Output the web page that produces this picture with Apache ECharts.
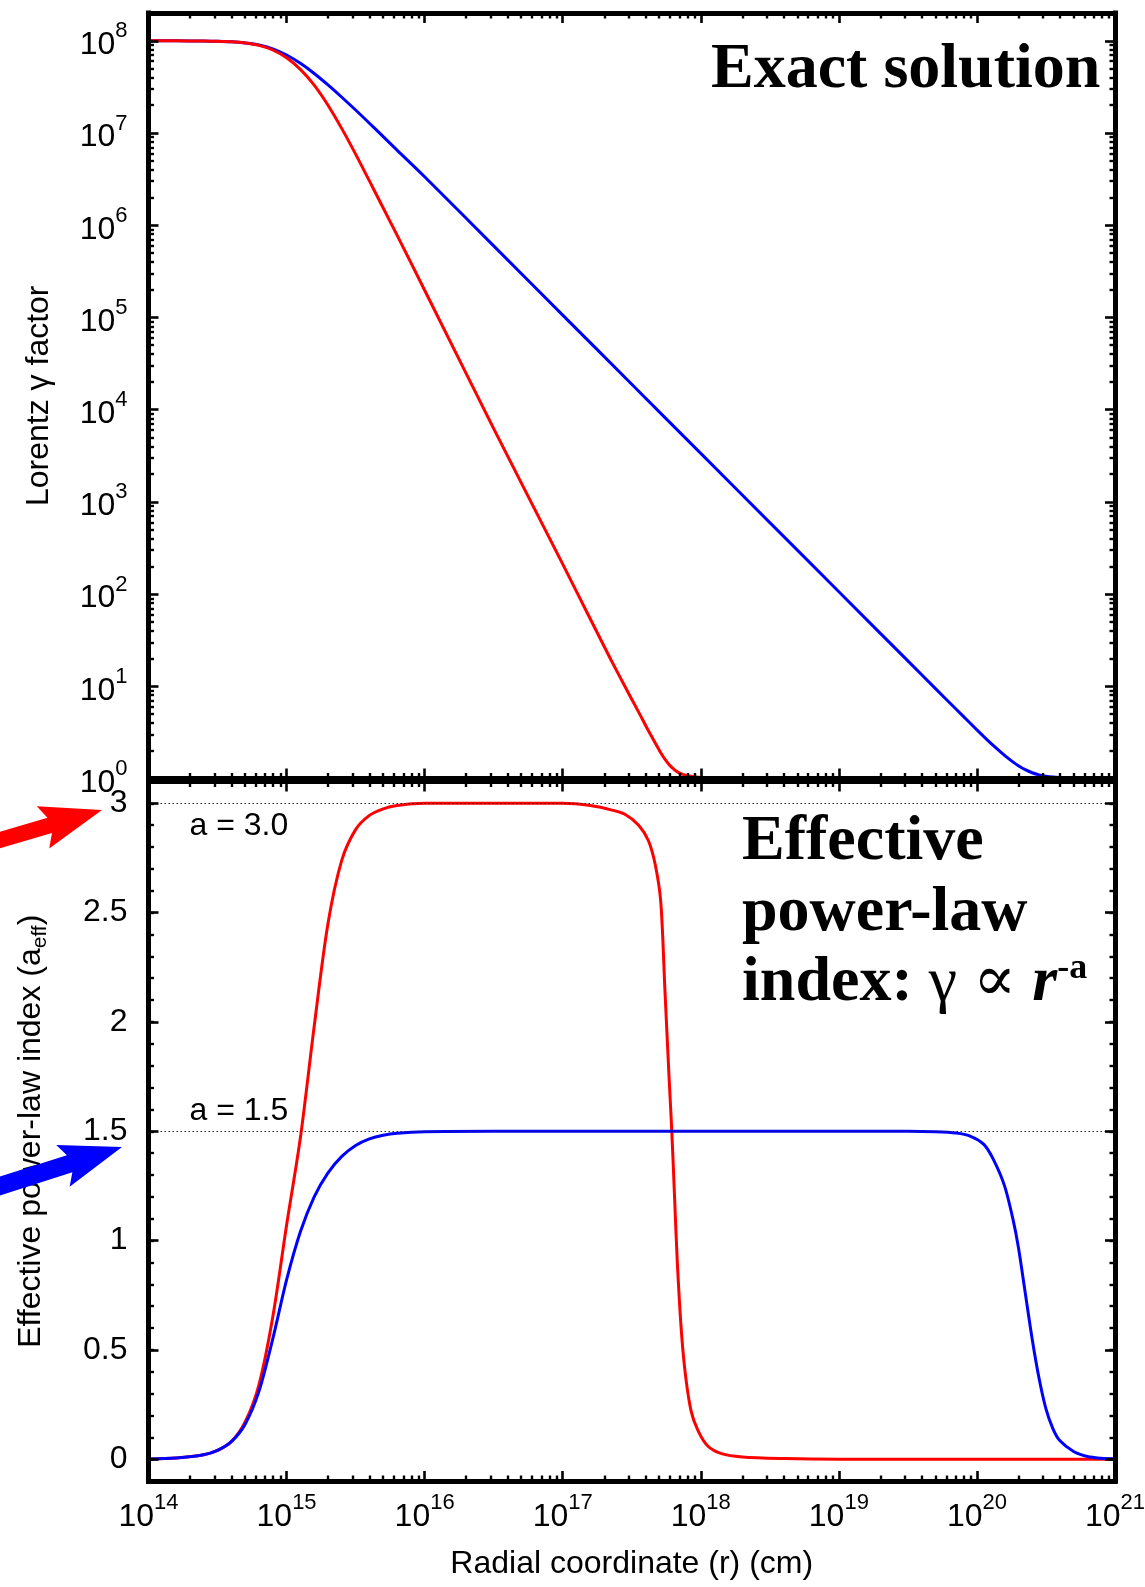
<!DOCTYPE html>
<html>
<head>
<meta charset="utf-8">
<title>Lorentz factor and effective power-law index</title>
<script src="https://cdn.jsdelivr.net/npm/echarts@6.0.0/dist/echarts.min.js"></script>
<style>
html,body{margin:0;padding:0;background:#ffffff;}
#chart{width:1145px;height:1587px;}
</style>
</head>
<body>
<div id="chart"></div>
<script>
// ---------------- data ----------------
// radial coordinate samples (cm) used for the red curves
const rRed = [1e14, 1.585e14, 2.512e14, 3.162e14, 3.981e14, 5.012e14, 6.31e14, 7.943e14,
  1e15, 1.259e15, 1.585e15, 1.995e15, 2.512e15, 3.162e15, 3.981e15, 5.012e15, 6.31e15,
  1e16, 3.162e16, 1e17, 1.585e17, 2.239e17, 2.818e17, 3.548e17, 4.169e17, 4.677e17,
  5.129e17, 5.495e17, 5.888e17, 6.166e17, 6.457e17, 6.761e17, 7.244e17, 7.762e17,
  8.511e17, 9.55e17, 1.122e18, 1.413e18, 1.995e18, 3.981e18, 1e19, 1e20, 1e21];
// Lorentz gamma factor, red (a = 3)
const gammaRed = [1e8, 9.99e7, 9.93e7, 9.86e7, 9.73e7, 9.46e7, 8.91e7, 7.94e7,
  6.53e7, 4.90e7, 3.30e7, 2.00e7, 1.115e7, 5.90e6, 3.02e6, 1.535e6, 7.80e5,
  1.97e5, 6230, 211, 53.7, 19.3, 10.0, 5.25, 3.31, 2.43,
  1.905, 1.62, 1.419, 1.318, 1.239, 1.18, 1.122, 1.086,
  1.057, 1.035, 1.0205, 1.0104, 1.0044, 1.0014, 1, 1, 1];
// effective power-law index, red
const aRed = [0, 0.005, 0.02, 0.04, 0.08, 0.17, 0.34, 0.65,
  1.07, 1.47, 1.98, 2.45, 2.74, 2.88, 2.945, 2.975, 2.99,
  3.0, 3.0, 3.0, 2.99, 2.97, 2.95, 2.9, 2.83, 2.72,
  2.55, 2.15, 1.75, 1.5, 1.2, 0.9, 0.58, 0.38,
  0.22, 0.13, 0.06, 0.025, 0.01, 0.003, 0, 0, 0];

// radial coordinate samples (cm) used for the blue curves
const rBlue = [1e14, 1.585e14, 2.512e14, 3.162e14, 3.981e14, 5.012e14, 6.31e14, 7.943e14,
  1e15, 1.259e15, 1.585e15, 1.995e15, 2.512e15, 3.162e15, 3.981e15, 5.012e15, 6.31e15,
  1e16, 3.162e16, 1e17, 3.162e17, 1e18, 3.162e18, 1e19, 3.162e19, 5.012e19,
  7.079e19, 8.913e19, 1.122e20, 1.318e20, 1.585e20, 1.82e20, 1.995e20, 2.239e20,
  2.512e20, 2.818e20, 3.162e20, 3.548e20, 3.981e20, 5.012e20, 6.31e20, 7.943e20, 1e21];
// Lorentz gamma factor, blue (a = 1.5)
const gammaBlue = [1e8, 9.99e7, 9.93e7, 9.86e7, 9.73e7, 9.46e7, 9.02e7, 8.18e7,
  7.01e7, 5.69e7, 4.42e7, 3.32e7, 2.44e7, 1.774e7, 1.276e7, 9.12e6, 6.52e6,
  3.35e6, 5.96e5, 1.06e5, 1.884e4, 3350, 596, 106, 18.84, 9.44,
  5.63, 3.995, 2.849, 2.268, 1.78, 1.514, 1.376, 1.246,
  1.155, 1.095, 1.058, 1.036, 1.023, 1.0085, 1.003, 1.0012, 1];
// effective power-law index, blue
const aBlue = [0, 0.005, 0.02, 0.04, 0.08, 0.16, 0.31, 0.55,
  0.82, 1.04, 1.2, 1.31, 1.385, 1.435, 1.465, 1.482, 1.491,
  1.498, 1.5, 1.5, 1.5, 1.5, 1.5, 1.5, 1.5, 1.498,
  1.492, 1.478, 1.44, 1.37, 1.25, 1.1, 0.97, 0.76,
  0.55, 0.37, 0.23, 0.14, 0.085, 0.035, 0.012, 0.004, 0.001];

// axis ranges and ticks
const rRange = [1e14, 1e21];
const gammaRange = [1, 2e8];
const aRange = [-0.1, 3.1];
const aTickValues = [0, 0.5, 1, 1.5, 2, 2.5, 3];
const refLevels = [3.0, 1.5];

// texts
const xTitle = 'Radial coordinate (r) (cm)';
const yTitleTop = 'Lorentz \u03b3 factor';
const yTitleBottom = '{n|Effective power-law index (a}{sub|eff}{n|)}';
const panelTitleTop = 'Exact solution';

// ---------------- styling ----------------
const FONT = '"Liberation Sans", Arial, Helvetica, sans-serif';
const SERIF = '"Liberation Serif", "Times New Roman", "DejaVu Serif", serif';
const RED = '#ff0000';
const BLUE = '#0000ff';
const FRAME_W = 5;
const TICK_FS = 32;
const SUP_FS = 22;

const axisLineOn = {show: true, onZero: false, lineStyle: {color: '#000', width: FRAME_W, cap: 'square'}};
const axisLineOff = {show: false, onZero: false};
const majorTick = {show: true, inside: true, length: 10, lineStyle: {color: '#000', width: 2.6}};
const minorTick = {show: true, inside: true, length: 5.5, lineStyle: {color: '#000', width: 2.4}};

// positions (in exponent space) of log minor ticks
const xExp = [Math.log10(rRange[0]), Math.log10(rRange[1])];
const yExp = [Math.log10(gammaRange[0]), Math.log10(gammaRange[1])];
function logMinor(e0, e1) {
  const out = [];
  for (let n = Math.floor(e0); n < e1; n++) {
    for (let k = 2; k <= 9; k++) {
      const v = n + Math.log10(k);
      if (v > e0 && v <= e1 + 1e-9) out.push(v);
    }
  }
  return out;
}
const minorX = logMinor(xExp[0], xExp[1]);
const minorY = logMinor(yExp[0], yExp[1]);

function powLabel(v) {
  const e = Math.log10(v);
  const n = Math.round(e);
  if (Math.abs(e - n) > 1e-6) return '';
  return '{b|10}{s|' + n + '}';
}
const powRich = {
  b: {fontSize: TICK_FS, fontFamily: FONT, color: '#000', verticalAlign: 'bottom', padding: [9, 0, 0, 0]},
  s: {fontSize: SUP_FS, fontFamily: FONT, color: '#000', verticalAlign: 'top'}
};

function logXAxis(grid, pos, extra) {
  return Object.assign({
    type: 'log', logBase: 10, gridIndex: grid, position: pos,
    min: rRange[0], max: rRange[1], z: 5,
    axisLine: axisLineOn, axisTick: majorTick,
    axisLabel: {show: false}, splitLine: {show: false}
  }, extra || {});
}
function minorXAxis(grid, pos) {
  return {
    type: 'value', gridIndex: grid, position: pos, min: xExp[0], max: xExp[1], z: 5,
    axisLine: axisLineOff, axisTick: Object.assign({}, minorTick, {customValues: minorX}),
    axisLabel: {show: false}, splitLine: {show: false}
  };
}

const xAxis = [
  logXAxis(0, 'bottom'),
  logXAxis(0, 'top'),
  logXAxis(1, 'bottom', {
    axisLabel: {show: true, formatter: powLabel, rich: powRich, margin: 11},
    name: xTitle, nameLocation: 'middle', nameGap: 67,
    nameTextStyle: {fontSize: 32, fontFamily: FONT, color: '#000', lineHeight: 32}
  }),
  logXAxis(1, 'top'),
  minorXAxis(0, 'bottom'),
  minorXAxis(0, 'top'),
  minorXAxis(1, 'bottom'),
  minorXAxis(1, 'top')
];

const yAxis = [
  {
    type: 'log', logBase: 10, gridIndex: 0, position: 'left', min: gammaRange[0], max: gammaRange[1], z: 5,
    axisLine: axisLineOn, axisTick: majorTick, splitLine: {show: false},
    axisLabel: {formatter: powLabel, rich: powRich, margin: 21},
    name: yTitleTop, nameLocation: 'middle', nameRotate: 90, nameGap: 93,
    nameTextStyle: {fontSize: 32, fontFamily: FONT, color: '#000', lineHeight: 32}
  },
  {
    type: 'log', logBase: 10, gridIndex: 0, position: 'right', min: gammaRange[0], max: gammaRange[1], z: 5,
    axisLine: axisLineOn, axisTick: majorTick, splitLine: {show: false}, axisLabel: {show: false}
  },
  {
    type: 'value', gridIndex: 0, position: 'left', min: yExp[0], max: yExp[1], z: 5,
    axisLine: axisLineOff, axisTick: Object.assign({}, minorTick, {customValues: minorY}),
    axisLabel: {show: false}, splitLine: {show: false}
  },
  {
    type: 'value', gridIndex: 0, position: 'right', min: yExp[0], max: yExp[1], z: 5,
    axisLine: axisLineOff, axisTick: Object.assign({}, minorTick, {customValues: minorY}),
    axisLabel: {show: false}, splitLine: {show: false}
  },
  {
    type: 'value', gridIndex: 1, position: 'left', min: aRange[0], max: aRange[1], z: 5,
    axisLine: axisLineOn, axisTick: Object.assign({}, majorTick, {customValues: aTickValues}),
    axisLabel: {customValues: aTickValues, fontSize: TICK_FS, fontFamily: FONT, color: '#000', margin: 21},
    splitLine: {show: false},
    name: yTitleBottom, nameLocation: 'middle', nameRotate: 90, nameGap: 98,
    nameTextStyle: {
      fontSize: 32, fontFamily: FONT, color: '#000',
      rich: {
        n: {fontSize: 32, fontFamily: FONT, color: '#000', lineHeight: 32, verticalAlign: 'top'},
        sub: {fontSize: 21, fontFamily: FONT, color: '#000', verticalAlign: 'bottom', padding: [14, 0, 0, 0]}
      }
    }
  },
  {
    type: 'value', gridIndex: 1, position: 'right', min: aRange[0], max: aRange[1], z: 5,
    axisLine: axisLineOn, axisTick: Object.assign({}, majorTick, {customValues: aTickValues}),
    axisLabel: {show: false}, splitLine: {show: false}
  },
  {
    type: 'value', gridIndex: 1, position: 'left', min: aRange[0], max: aRange[1], interval: 0.1, z: 5,
    axisLine: axisLineOff, axisTick: minorTick, axisLabel: {show: false}, splitLine: {show: false}
  },
  {
    type: 'value', gridIndex: 1, position: 'right', min: aRange[0], max: aRange[1], interval: 0.1, z: 5,
    axisLine: axisLineOff, axisTick: minorTick, axisLabel: {show: false}, splitLine: {show: false}
  }
];

function zip(xs, ys) { return xs.map((x, i) => [x, ys[i]]); }
function lineSeries(xi, yi, xs, ys, color, extra) {
  return Object.assign({
    type: 'line', xAxisIndex: xi, yAxisIndex: yi, data: zip(xs, ys),
    showSymbol: false, symbol: 'none', smooth: 0.3, clip: true,
    lineStyle: {color: color, width: 3}, itemStyle: {color: color},
    emphasis: {disabled: true}, z: 2
  }, extra || {});
}

// arrows outside the plot (annotation graphics)
function arrowPoints(tip, tail, headLen, headHalf, shaftHalf) {
  const dx = tip[0] - tail[0], dy = tip[1] - tail[1];
  const L = Math.hypot(dx, dy);
  const ux = dx / L, uy = dy / L, nx = -uy, ny = ux;
  const bx = tip[0] - ux * headLen, by = tip[1] - uy * headLen;
  const jx = bx + ux * 7, jy = by + uy * 7;
  const tx = tail[0] - ux * 30, ty = tail[1] - uy * 30;
  return [
    [tx + nx * shaftHalf, ty + ny * shaftHalf],
    [jx + nx * shaftHalf, jy + ny * shaftHalf],
    [bx + nx * headHalf, by + ny * headHalf],
    [tip[0], tip[1]],
    [bx - nx * headHalf, by - ny * headHalf],
    [jx - nx * shaftHalf, jy - ny * shaftHalf],
    [tx - nx * shaftHalf, ty - ny * shaftHalf]
  ];
}

const chart = echarts.init(document.getElementById('chart'), null, {renderer: 'canvas'});
chart.setOption({
  animation: false,
  backgroundColor: '#ffffff',
  textStyle: {fontFamily: FONT},
  grid: [
    {left: 148.5, right: 30, top: 13, bottom: 1587 - 778.5, outerBoundsMode: 'none', containLabel: false},
    {left: 148.5, right: 30, top: 781.5, bottom: 1587 - 1481, outerBoundsMode: 'none', containLabel: false}
  ],
  xAxis: xAxis,
  yAxis: yAxis,
  series: [
    lineSeries(0, 0, rBlue, gammaBlue, BLUE),
    lineSeries(0, 0, rRed, gammaRed, RED),
    lineSeries(2, 4, rRed, aRed, RED, {
      markLine: {
        silent: true, symbol: ['none', 'none'], animation: false,
        lineStyle: {color: '#222', width: 1.2, type: [1.5, 2.5]},
        label: {show: true, fontSize: TICK_FS, fontFamily: FONT, color: '#000'},
        emphasis: {disabled: true},
        data: [
          {yAxis: refLevels[0], label: {formatter: 'a = ' + refLevels[0].toFixed(1), position: 'insideStartBottom', distance: [41, 7]}},
          {yAxis: refLevels[1], label: {formatter: 'a = ' + refLevels[1].toFixed(1), position: 'insideStartTop', distance: [41, 4]}}
        ]
      }
    }),
    lineSeries(2, 4, rBlue, aBlue, BLUE)
  ],
  graphic: [
    {type: 'polygon', z: 100, shape: {points: arrowPoints([102, 810], [0, 840], 61.5, 22, 8)}, style: {fill: RED}},
    {type: 'polygon', z: 100, shape: {points: arrowPoints([122, 1147], [0, 1186], 62, 22, 9)}, style: {fill: BLUE}},
    {type: 'text', z: 100, x: 711, y: 38, style: {text: panelTitleTop, font: 'bold 64px ' + SERIF, fill: '#000', textAlign: 'left', textVerticalAlign: 'top'}},
    {type: 'text', z: 100, x: 742, y: 810, style: {text: 'Effective', font: 'bold 64px ' + SERIF, fill: '#000', textAlign: 'left', textVerticalAlign: 'top'}},
    {type: 'text', z: 100, x: 742, y: 881, style: {text: 'power-law', font: 'bold 64px ' + SERIF, fill: '#000', textAlign: 'left', textVerticalAlign: 'top'}},
    {type: 'text', z: 100, x: 742, y: 951, style: {
      text: '{t|index: }{g|\u03b3 \u221d }{r|r}{sup|-a}',
      textAlign: 'left', textVerticalAlign: 'top',
      rich: {
        t: {font: 'bold 64px ' + SERIF, fill: '#000', lineHeight: 64},
        g: {font: '64px ' + SERIF, fill: '#000', lineHeight: 64},
        r: {font: 'italic bold 64px ' + SERIF, fill: '#000', lineHeight: 64},
        sup: {font: 'bold 36px ' + SERIF, fill: '#000', verticalAlign: 'top'}
      }
    }}
  ]
});
</script>
</body>
</html>
